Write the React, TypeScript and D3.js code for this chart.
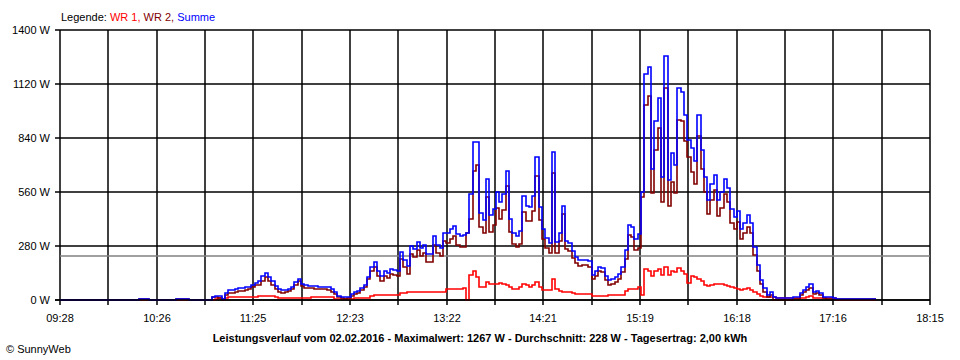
import React from 'react';
import * as d3 from 'd3';

// ---- data ----
const startLabel = '09:28';
const spanMinutes = 527; // 09:28 .. 18:15
const stepMinutes = 2;
const xTickLabels = ['09:28', '10:26', '11:25', '12:23', '13:22', '14:21', '15:19', '16:18', '17:16', '18:15'];
const yTicks = [0, 280, 560, 840, 1120, 1400];
const averageW = 228;
const titleText = 'Leistungsverlauf vom 02.02.2016 - Maximalwert: 1267 W - Durchschnitt: 228 W - Tagesertrag: 2,00 kWh';

// Summe (W), every 2 minutes from 09:28
const summe = [
  0, 0, 0, 0, 0, 0, 0, 0, 0, 0,
  0, 0, 0, 0, 0, 0, 0, 0, 0, 0,
  0, 0, 0, 0, 4, 4, 4, 0, 0, 0,
  0, 2, 0, 0, 0, 4, 4, 4, 4, 0,
  0, 0, 0, 0, 0, 0, 15, 20, 20, 5,
  38, 50, 52, 56, 60, 62, 66, 70, 80, 90,
  100, 122, 140, 120, 98, 75, 55, 50, 52, 58,
  70, 92, 108, 85, 76, 75, 74, 72, 70, 69,
  68, 66, 55, 40, 22, 16, 14, 18, 30, 42,
  46, 60, 80, 120, 170, 197, 150, 122, 150, 140,
  160, 155, 150, 250, 210, 175, 280, 265, 300, 270,
  285, 240, 240, 330, 285, 270, 350, 350, 370, 385,
  340, 330, 335, 350, 550, 820, 821, 450, 415, 630,
  440, 470, 560, 510, 550, 670, 420, 345, 330, 360,
  540, 490, 480, 540, 740, 480, 370, 320, 295, 770,
  300, 350, 490, 305, 295, 255, 222, 208, 210, 210,
  200, 128, 148, 170, 168, 125, 105, 110, 120, 133,
  170, 260, 390, 380, 315, 340, 560, 1170, 1210, 680,
  930, 1050, 640, 1267, 620, 760, 700, 1100, 1080, 960,
  830, 790, 720, 960, 780, 640, 520, 600, 650, 520,
  560, 630, 580, 470, 430, 460, 370, 400, 440, 400,
  277, 180, 104, 60, 28, 40, 15, 12, 10, 10,
  10, 10, 15, 14, 35, 52, 69, 83, 40, 45,
  35, 17, 14, 14, 12, 5, 5, 5, 5, 5,
  5, 5, 5, 5, 5, 5, 5, 5,
];

// WR 1 (W), every 2 minutes from 09:28
const wr1 = [
  0, 0, 0, 0, 0, 0, 0, 0, 0, 0,
  0, 0, 0, 0, 0, 0, 0, 0, 0, 0,
  0, 0, 0, 0, 0, 0, 0, 0, 0, 0,
  0, 0, 0, 0, 0, 0, 0, 0, 0, 0,
  0, 0, 0, 0, 0, 0, 0, 3, 8, 5,
  12, 14, 14, 14, 14, 14, 14, 14, 14, 14,
  20, 21, 21, 21, 20, 18, 12, 12, 12, 12,
  12, 12, 12, 12, 12, 12, 13, 13, 13, 13,
  13, 13, 13, 7, 7, 7, 7, 7, 7, 10,
  10, 10, 10, 12, 22, 26, 26, 26, 26, 26,
  26, 26, 26, 35, 38, 40, 40, 40, 40, 40,
  40, 43, 43, 43, 43, 43, 43, 55, 55, 55,
  55, 55, 60, 0, 130, 150, 120, 70, 69, 95,
  85, 83, 83, 90, 85, 80, 69, 57, 57, 70,
  83, 80, 69, 80, 95, 65, 52, 52, 52, 110,
  55, 45, 43, 43, 40, 35, 31, 31, 31, 31,
  31, 21, 21, 21, 21, 21, 26, 26, 26, 26,
  26, 45, 55, 55, 55, 70, 25, 160, 150, 125,
  150, 160, 130, 170, 130, 150, 145, 165, 150, 135,
  90, 125, 120, 110, 100, 80, 75, 80, 82, 82,
  85, 78, 72, 70, 63, 55, 52, 55, 60, 52,
  43, 32, 21, 16, 14, 14, 14, 12, 9, 9,
  9, 9, 9, 9, 9, 12, 18, 21, 9, 9,
  9, 9, 9, 9, 9, 0, 0, 0, 0, 0,
  0, 0, 0, 0, 0, 0, 0, 0,
];

// WR 2 is the remainder of the sum
const wr2 = summe.map((s, i) => Math.max(0, s - (wr1[i] ?? 0)));

const series = [
  { name: 'WR 1', values: wr1, color: '#ff0000' },
  { name: 'WR 2', values: wr2, color: '#800000' },
  { name: 'Summe', values: summe, color: '#0000ff' },
];

const W = 960;
const H = 360;
const left = 60;
const right = 930;
const top = 30;
const bottom = 300;

export default function App() {
  const x = d3.scaleLinear().domain([0, spanMinutes]).range([left, right]);
  const y = d3.scaleLinear().domain([0, 1400]).range([bottom, top]);
  const gridT = d3.range(19).map((k) => (k * spanMinutes) / 18);
  const px = (v: number) => Math.round(v);

  const line = d3
    .line<number>()
    .x((_, i) => px(x(i * stepMinutes)))
    .y((d) => px(y(d)))
    .curve(d3.curveStepAfter);

  const font = '"Liberation Sans", Arial, sans-serif';

  return (
    <svg
      width={W}
      height={H}
      style={{ position: 'absolute', left: 0, top: 0, background: '#fff' }}
      fontFamily={font}
    >
      <rect x={0} y={0} width={W} height={H} fill="#fff" />
      {/* legend */}
      <text x={61} y={21} fontSize={11}>
        <tspan fill="#000">Legende: </tspan>
        <tspan fill="#ff0000">WR 1, </tspan>
        <tspan fill="#800000">WR 2, </tspan>
        <tspan fill="#0000ff">Summe</tspan>
      </text>

      {/* horizontal grid + y labels */}
      {yTicks.map((v) => (
        <g key={v}>
          <line
            x1={left - 5}
            x2={right}
            y1={px(y(v))}
            y2={px(y(v))}
            stroke="#000"
            strokeWidth={1.5}
          />
          <text x={50} y={px(y(v)) + 4} fontSize={11} textAnchor="end" fill="#000">
            {v} W
          </text>
        </g>
      ))}

      {/* vertical grid */}
      {gridT.map((t, k) => (
        <line
          key={k}
          x1={px(x(t))}
          x2={px(x(t))}
          y1={top}
          y2={bottom + 5}
          stroke="#000"
          strokeWidth={1.5}
        />
      ))}

      {/* x labels */}
      {xTickLabels.map((lab, k) => (
        <text key={lab} x={px(x(gridT[k * 2]))} y={322} fontSize={11} textAnchor="middle" fill="#000">
          {lab}
        </text>
      ))}

      {/* average line */}
      <line
        x1={left}
        x2={right}
        y1={px(y(averageW))}
        y2={px(y(averageW))}
        stroke="#808080"
        strokeWidth={1.5}
      />

      {/* series */}
      {series.map((s) => (
        <path key={s.name} d={line(s.values) || ''} fill="none" stroke={s.color} strokeWidth={1.6} />
      ))}

      {/* baseline on top */}
      <line x1={left - 5} x2={right} y1={bottom} y2={bottom} stroke="#000" strokeWidth={1.5} />

      <text x={480} y={342} fontSize={11} fontWeight="bold" textAnchor="middle" fill="#000">
        {titleText}
      </text>
      <text x={6} y={353} fontSize={11} fill="#000">
        © SunnyWeb
      </text>
      <desc>{startLabel}</desc>
    </svg>
  );
}
